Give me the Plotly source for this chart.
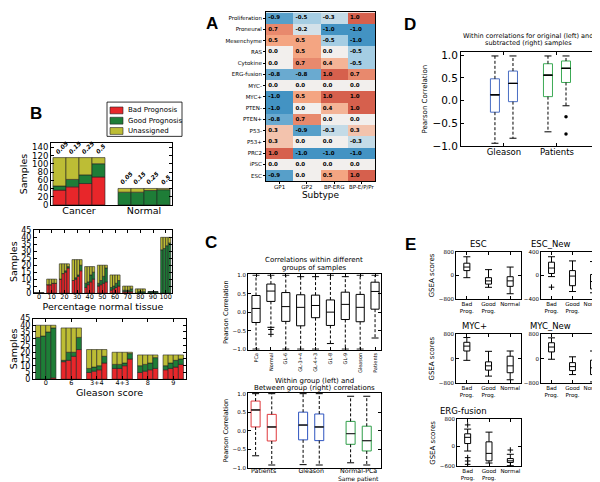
import plotly.graph_objects as go

W, H = 600, 482
FONT = "DejaVu Sans"

# ---------------- Panel A ----------------
subtypes = ["GP1", "GP2", "BP-ERG", "BP-E/P/Pr"]
signatures = ["Proliferation", "Proneural", "Mesenchyme", "RAS", "Cytokine",
              "ERG-fusion", "MYC-", "MYC+", "PTEN-", "PTEN+", "P53-", "P53+",
              "PRC2", "iPSC", "ESC"]
enrichment = [
    [-0.9, -0.5, -0.3, 1.0],
    [0.7, -0.2, -1.0, -1.0],
    [0.5, 0.5, -0.5, -1.0],
    [0.0, 0.5, 0.0, -0.5],
    [0.0, 0.7, 0.4, -0.5],
    [-0.8, -0.8, 1.0, 0.7],
    [0.0, 0.0, 0.0, 0.0],
    [-1.0, 0.5, 1.0, 1.0],
    [-1.0, 0.0, 0.4, 1.0],
    [-0.8, 0.7, 0.0, 0.0],
    [0.3, -0.9, -0.3, 0.3],
    [0.3, 0.0, 0.0, -0.3],
    [1.0, -1.0, -1.0, -1.0],
    [0.0, 0.0, 0.0, 0.0],
    [-0.9, 0.0, 0.5, 1.0],
]

# ---------------- Panel B ----------------
thresholds = ["0.05", "0.15", "0.25", "0.5"]
prognosis_labels = ["Bad Prognosis", "Good Prognosis", "Unassigned"]
sample_types = ["Cancer", "Normal"]
type_bad = [[36, 0], [44, 0], [52, 0], [68, 0]]
type_good = [[10, 31], [18, 31], [21, 35], [32, 37]]
type_unassigned = [[69, 9], [53, 9], [42, 5], [15, 3]]

pct_normal = ["0", "10", "20", "30", "40", "50", "60", "70", "80", "90", "100"]
pct_bad = [[0, 6, 10, 9, 4, 5, 2, 1, 0, 0, 0],
           [0, 6, 14, 10, 6, 6, 3, 1, 0, 0, 0],
           [0, 7, 15, 12, 8, 7, 4, 1, 0, 0, 0],
           [0, 7, 18, 16, 10, 8, 5, 1, 0, 0, 0]]
pct_good = [[0, 0, 0, 0, 3, 2, 2, 1, 0, 1, 31],
            [0, 0, 0, 1, 2, 3, 2, 1, 1, 1, 32],
            [0, 0, 1, 1, 5, 5, 3, 1, 1, 1, 34],
            [0, 0, 1, 4, 5, 10, 4, 2, 1, 1, 36]]
pct_unassigned = [[0, 4, 11, 15, 12, 13, 9, 3, 3, 0, 9],
                  [0, 4, 7, 13, 11, 11, 8, 3, 2, 0, 8],
                  [0, 3, 5, 11, 6, 8, 6, 3, 2, 0, 6],
                  [0, 3, 2, 4, 4, 2, 4, 2, 2, 0, 4]]

gleason = ["0", "6", "3+4", "4+3", "8", "9"]
gl_bad = [[0, 13, 5, 8, 5, 7],
          [0, 14, 6, 8, 6, 8],
          [0, 17, 7, 10, 7, 9],
          [1, 22, 12, 15, 8, 11]]
gl_good = [[31, 1, 3, 3, 5, 3],
           [32, 6, 3, 3, 5, 4],
           [35, 3, 3, 2, 5, 5],
           [37, 9, 5, 4, 8, 4]]
gl_unassigned = [[9, 24, 14, 9, 8, 8],
                 [8, 18, 13, 9, 7, 6],
                 [5, 18, 12, 8, 6, 4],
                 [2, 7, 5, 1, 2, 3]]

# ---------------- Panel C ----------------
ctop_groups = ["PCa", "Normal", "GL-6", "GL-3+4", "GL-4+3", "GL-8", "GL-9", "Gleason", "Patients"]
ctop_q1 = [-0.28, 0.29, -0.25, -0.37, -0.15, -0.36, -0.20, -0.26, 0.08]
ctop_med = [0.10, 0.57, 0.15, 0.13, 0.18, 0.00, 0.21, 0.13, 0.56]
ctop_q3 = [0.45, 0.76, 0.53, 0.47, 0.46, 0.33, 0.54, 0.48, 0.81]
ctop_lo = [-1.0, -0.41, -1.0, -1.0, -1.0, -0.85, -1.0, -1.0, -0.70]
ctop_hi = [1.0, 1.0, 1.0, 0.96, 0.96, 1.0, 0.96, 1.0, 1.0]
ctop_fliers = [[], [-0.47, -0.60], [], [], [], [], [], [], []]

cbot_groups = ["Patients", "Gleason", "Normal-PCa"]
cbot_group_sub = ["", "", "Same patient"]
cbot_q1 = [[0.10, -0.28], [-0.25, -0.27], [-0.37, -0.55]]
cbot_med = [[0.56, 0.10], [0.15, 0.10], [-0.08, -0.27]]
cbot_q3 = [[0.80, 0.44], [0.50, 0.45], [0.25, 0.12]]
cbot_lo = [[-0.68, -0.93], [-0.92, -0.93], [-0.87, -0.93]]
cbot_hi = [[1.0, 1.0], [1.0, 1.0], [0.93, 0.93]]
cbot_colors = ["#e0383c", "#2f55c0", "#2e9e48"]

# ---------------- Panel D ----------------
d_groups = ["Gleason", "Patients"]
d_q1 = [[-0.25, -0.02], [0.09, 0.40]]
d_med = [[0.13, 0.38], [0.56, 0.71]]
d_q3 = [[0.48, 0.65], [0.81, 0.87]]
d_lo = [[-0.93, -0.82], [-0.68, -0.11]]
d_hi = [[0.98, 0.98], [0.98, 0.98]]
d_fliers = [[[], []], [[], [-0.35, -0.73]]]
d_colors = ["#4a6ec4", "#3caa55"]

# ---------------- Panel E ----------------
e_groups = ["Bad<br>Prog.", "Good<br>Prog.", "Normal"]
e_names = ["ESC", "ESC_New", "MYC+", "MYC_New", "ERG-fusion"]
e_q1 = [[164, -296, -372], [33, -175, -230], [250, -375, -460], [220, -390, -520], [80, -435, -484]]
e_med = [[285, -186, -186], [126, -11, -104], [410, -235, -235], [380, -260, -300], [265, -213, -435]]
e_q3 = [[416, -77, -44], [225, 82, 16], [535, -105, 80], [520, -130, -50], [370, 130, -367]]
e_lo = [[-77, -405, -624], [-20, -274, -296], [-55, -570, -690], [-20, -520, -760], [-143, -500, -580]]
e_hi = [[635, 197, 285], [318, 247, 236], [690, 240, 250], [680, 60, 250], [510, 420, -240]]
e_fliers = [[[], [], []], [[-200], [], []], [[], [], []], [[], [], []],
            [[635, -340, -440, -540], [], [-113]]]
e_ticks = [[-800, 0, 800], [-400, 0, 400], [-800, 0, 800], [-800, 0, 800], [-600, 0, 800]]

RED, GREEN, YELLOW = "#e8262a", "#1e7d37", "#bdbd35"


def xd(a, b):
    return [a / W, b / W]


def yd(top, bottom):
    return [1 - bottom / H, 1 - top / H]


def axis(domain, anchor, size=7, **kw):
    d = dict(domain=domain, anchor=anchor, showline=True, linecolor="black", linewidth=1,
             mirror="allticks", ticks="inside", ticklen=3, tickwidth=0.8, tickcolor="black",
             showgrid=False, zeroline=False, fixedrange=True,
             tickfont=dict(size=size, family=FONT, color="black"))
    d.update(kw)
    return d


fig = go.Figure()

# ---- A heatmap ----
rows = list(range(len(signatures)))
cols = list(range(len(subtypes)))
fig.add_trace(go.Heatmap(
    z=enrichment, x=cols, y=rows, zmin=-1, zmax=1, showscale=False,
    colorscale=[[0, "#4393c3"], [0.25, "#a5cde3"], [0.5, "#f2efed"], [0.75, "#f4a582"], [1, "#d6604d"]],
    xaxis="x", yaxis="y", hoverinfo="skip"))
tx, ty, tt = [], [], []
for r in rows:
    for c in cols:
        tx.append(c - 0.42)
        ty.append(r)
        tt.append(f"{enrichment[r][c]:.1f}")
fig.add_trace(go.Scatter(x=tx, y=ty, text=tt, mode="text", textposition="middle right",
                         textfont=dict(size=5.5, family=FONT, color="black", weight="bold"),
                         xaxis="x", yaxis="y", showlegend=False, hoverinfo="skip"))


# ---- B bars ----
def stacked(cats, bad, good, unas, xa, ya):
    for j in range(len(thresholds)):
        off = -0.4 + 0.2 * j
        base_u = [b + g for b, g in zip(bad[j], good[j])]
        for vals, base, col in [(bad[j], None, RED), (good[j], bad[j], GREEN), (unas[j], base_u, YELLOW)]:
            fig.add_trace(go.Bar(x=cats, y=vals, base=base, offset=off, width=0.2,
                                 marker=dict(color=col, line=dict(color="#222", width=0.6)),
                                 showlegend=False, xaxis=xa, yaxis=ya, hoverinfo="skip"))


stacked(sample_types, type_bad, type_good, type_unassigned, "x2", "y2")
stacked(pct_normal, pct_bad, pct_good, pct_unassigned, "x3", "y3")
stacked(gleason, gl_bad, gl_good, gl_unassigned, "x4", "y4")

annotations = []
shapes = []
for i in range(len(sample_types)):
    for j, t in enumerate(thresholds):
        tot = type_bad[j][i] + type_good[j][i] + type_unassigned[j][i]
        annotations.append(dict(x=i - 0.3 + 0.2 * j, y=tot, xref="x2", yref="y2", text=t,
                                showarrow=False, textangle=-45, yanchor="bottom", xanchor="center",
                                xshift=2, yshift=0, font=dict(size=6, family=FONT, color="black",
                                                               weight="bold", style="italic")))

# manual legend for B (frame + patches)
shapes.append(dict(type="rect", xref="paper", yref="paper", x0=99 / W, x1=174 / W,
                   y0=1 - 127 / H, y1=1 - 92 / H, line=dict(color="black", width=0.8),
                   fillcolor="white", layer="above"))
for k, (lbl, col) in enumerate(zip(prognosis_labels, [RED, GREEN, YELLOW])):
    yc = 100.5 + 10.5 * k
    shapes.append(dict(type="rect", xref="paper", yref="paper", x0=102 / W, x1=115 / W,
                       y0=1 - (yc + 3.5) / H, y1=1 - (yc - 3.5) / H, fillcolor=col,
                       line=dict(color="#222", width=0.6), layer="above"))
    annotations.append(dict(x=118 / W, y=1 - yc / H, xref="paper", yref="paper", text=lbl,
                            showarrow=False, xanchor="left", yanchor="middle",
                            font=dict(size=7, family=FONT, color="black")))


# ---- boxes ----
def box(x, q1, med, q3, lo, hi, xa, ya, width, color, cap, dash="3px,2px", fliers=(),
        fsym="cross-thin", median_color="black"):
    kw = dict(xaxis=xa, yaxis=ya, showlegend=False, hoverinfo="skip")
    fig.add_trace(go.Box(x=[x], q1=[q1], median=[med], q3=[q3], lowerfence=[q1], upperfence=[q3],
                         width=width, line=dict(color=color, width=1), fillcolor="rgba(0,0,0,0)",
                         whiskerwidth=0, boxpoints=False, **kw))
    if median_color != color:
        fig.add_trace(go.Box(x=[x], q1=[med], median=[med], q3=[med], lowerfence=[med],
                             upperfence=[med], width=width, line=dict(color=median_color, width=1),
                             fillcolor="rgba(0,0,0,0)", whiskerwidth=0, boxpoints=False, **kw))
    fig.add_trace(go.Scatter(x=[x, x, None, x, x], y=[q3, hi, None, q1, lo], mode="lines",
                             line=dict(color="black", width=1, dash=dash), **kw))
    fig.add_trace(go.Scatter(x=[x, x], y=[hi, lo], mode="markers",
                             marker=dict(symbol="line-ew", size=cap, color="black",
                                         line=dict(color="black", width=1)), **kw))
    if fliers:
        if fsym == "circle":
            mk = dict(symbol="circle", size=3.5, color="black")
        else:
            mk = dict(symbol=fsym, size=4, color="black", line=dict(color="black", width=1))
        fig.add_trace(go.Scatter(x=[x] * len(fliers), y=list(fliers), mode="markers", marker=mk, **kw))


for i in range(len(ctop_groups)):
    box(i, ctop_q1[i], ctop_med[i], ctop_q3[i], ctop_lo[i], ctop_hi[i], "x5", "y5", 0.55,
        "black", 5, fliers=ctop_fliers[i])

for g in range(len(cbot_groups)):
    for k, off in enumerate([-0.17, 0.17]):
        box(g + off, cbot_q1[g][k], cbot_med[g][k], cbot_q3[g][k], cbot_lo[g][k], cbot_hi[g][k],
            "x6", "y6", 0.19, cbot_colors[g], 5, median_color="#333")
    if cbot_group_sub[g]:
        annotations.append(dict(x=g, y=-1.02, xref="x6", yref="y6", text=cbot_group_sub[g],
                                showarrow=False, yanchor="top", yshift=-4.5,
                                font=dict(size=6, family=FONT, color="black")))

for g in range(len(d_groups)):
    for k, off in enumerate([-0.17, 0.17]):
        box(g + off, d_q1[g][k], d_med[g][k], d_q3[g][k], d_lo[g][k], d_hi[g][k],
            "x7", "y7", 0.17, d_colors[g], 5, median_color="black",
            fliers=d_fliers[g][k], fsym="circle")

for p in range(len(e_names)):
    xa, ya = f"x{8 + p}", f"y{8 + p}"
    for i in range(len(e_groups)):
        box(i, e_q1[p][i], e_med[p][i], e_q3[p][i], e_lo[p][i], e_hi[p][i], xa, ya, 0.28,
            "black", 5, dash="solid", fliers=e_fliers[p][i])

# ---------------- layout ----------------
lay = dict(width=W, height=H, margin=dict(l=0, r=0, t=0, b=0), plot_bgcolor="white",
           paper_bgcolor="white", barmode="overlay", boxmode="overlay", showlegend=False,
           font=dict(family=FONT, color="black"))

lay["xaxis"] = axis(xd(258, 367), "y", size=5.5, range=[-0.5, 3.5], tickvals=cols,
                    ticktext=subtypes, ticks="outside", ticklen=2, mirror=True, ticklabelstandoff=-2,
                    title=dict(text="Subtype", font=dict(size=9), standoff=0))
lay["yaxis"] = axis(yd(0.5, 173), "x", size=5.5, range=[14.5, -0.5], tickvals=rows,
                    ticktext=signatures, ticks="outside", ticklen=2, mirror=True)

lay["xaxis2"] = axis(xd(43, 164), "y2", size=9.5, range=[-0.43, 1.43], type="category",
                     ticks="", categoryorder="array", categoryarray=sample_types, tickangle=0,
                     ticklabelstandoff=-3)
lay["yaxis2"] = axis(yd(134, 197), "x2", size=8.5, range=[0, 150], tickvals=list(range(0, 141, 20)),
                     title=dict(text="Samples", font=dict(size=9.5), standoff=2))
lay["xaxis3"] = axis(xd(26, 164), "y3", size=6.5, range=[-0.4, 10.5], type="category",
                     categoryorder="array", categoryarray=pct_normal, tickangle=0,
                     ticklabelstandoff=-3,
                     title=dict(text="Percentage normal tissue", font=dict(size=9.5), standoff=0))
lay["yaxis3"] = axis(yd(223, 287), "x3", size=8, range=[0, 45], tickvals=list(range(0, 46, 5)),
                     title=dict(text="Samples", font=dict(size=9.5), standoff=2))
lay["xaxis4"] = axis(xd(25, 178), "y4", size=6.5, range=[-0.5, 5.5], type="category",
                     categoryorder="array", categoryarray=gleason, tickangle=0,
                     ticklabelstandoff=-3,
                     title=dict(text="Gleason score", font=dict(size=9.5), standoff=0))
lay["yaxis4"] = axis(yd(313, 375), "x4", size=8, range=[0, 45], tickvals=list(range(0, 46, 5)),
                     title=dict(text="Samples", font=dict(size=9.5), standoff=2))

lay["xaxis5"] = axis(xd(240, 373), "y5", size=5, range=[-0.54, 8.4],
                     tickvals=list(range(len(ctop_groups))), ticktext=ctop_groups, tickangle=-90)
lay["yaxis5"] = axis(yd(268, 345), "x5", size=5.5, range=[-1.02, 1.02],
                     tickvals=[-1, -0.5, 0, 0.5, 1], ticktext=["\u22121.0", "\u22120.5", "0.0", "0.5", "1.0"],
                     title=dict(text="Pearson Correlation", font=dict(size=6.5), standoff=3))
lay["xaxis6"] = axis(xd(240, 373), "y6", size=6.3, range=[-0.33, 2.47],
                     tickvals=list(range(len(cbot_groups))), ticktext=cbot_groups, ticks="",
                     ticklabelstandoff=-4)
lay["yaxis6"] = axis(yd(389, 466), "x6", size=5.5, range=[-1.02, 1.02],
                     tickvals=[-1, -0.5, 0, 0.5, 1], ticktext=["\u22121.0", "\u22120.5", "0.0", "0.5", "1.0"],
                     title=dict(text="Pearson Correlation", font=dict(size=6.5), standoff=3))

lay["xaxis7"] = axis(xd(453, 593), "y7", size=8.5, range=[-0.81, 1.83],
                     tickvals=list(range(len(d_groups))), ticktext=d_groups, ticklabelstandoff=-3)
lay["yaxis7"] = axis(yd(40.7, 137.3), "x7", size=10.5, range=[-1.0, 1.07],
                     tickvals=[-1, -0.5, 0, 0.5, 1], ticktext=["\u22121.0", "\u22120.5", "0.0", "0.5", "1.0"],
                     title=dict(text="Pearson Correlation", font=dict(size=7), standoff=3))

e_boxes = [(448, 513, 245, 293), (533, 596, 245, 293), (448, 513, 329, 379),
           (533, 596, 329, 379), (449, 513, 416, 464)]
for p, (x0, x1, y0, y1) in enumerate(e_boxes):
    n = 8 + p
    lay[f"xaxis{n}"] = axis(xd(x0, x1), f"y{n}", size=5.5, range=[-0.5, 2.5],
                            tickvals=list(range(3)), ticktext=e_groups, ticklabelstandoff=-1)
    yk = dict(size=5.5, range=[e_ticks[p][0], e_ticks[p][-1]], tickvals=e_ticks[p],
              ticktext=[str(v).replace("-", "\u2212") for v in e_ticks[p]])
    if p in (0, 2, 4):
        yk["title"] = dict(text="GSEA scores", font=dict(size=7), standoff=3)
    lay[f"yaxis{n}"] = axis(yd(y0, y1), f"x{n}", **yk)
    annotations.append(dict(x=(x0 + x1) / 2 / W, y=1 - (y0 - 1) / H, xref="paper", yref="paper",
                            text=e_names[p], showarrow=False, yanchor="bottom",
                            font=dict(size=8.5, family=FONT)))


def label(x, y, text, size, **kw):
    annotations.append(dict(x=x / W, y=1 - y / H, xref="paper", yref="paper", text=text,
                            showarrow=False, xanchor="center", yanchor="middle",
                            font=dict(size=size, family=FONT, color="black"), **kw))


for t, x, y in [("A", 204, 12), ("B", 28, 104), ("C", 203, 235), ("D", 402, 13), ("E", 402, 237)]:
    annotations.append(dict(x=x / W, y=1 - y / H, xref="paper", yref="paper", text=t, showarrow=False,
                            xanchor="center", yanchor="middle",
                            font=dict(size=17, family="Liberation Sans", color="black", weight="bold")))

label(306, 253, "Correlations within different", 7)
label(306, 261.5, "groups of samples", 7)
label(306, 376.5, "Within group (left) and", 7)
label(306, 384, "Between group (right) correlations", 7)
label(520, 24, "Within correlations for original (left) and", 6.5)
label(520, 32, "subtracted (right) samples", 6.5)

lay["annotations"] = annotations
lay["shapes"] = shapes
fig.update_layout(**lay)
fig.write_html("out.html")
